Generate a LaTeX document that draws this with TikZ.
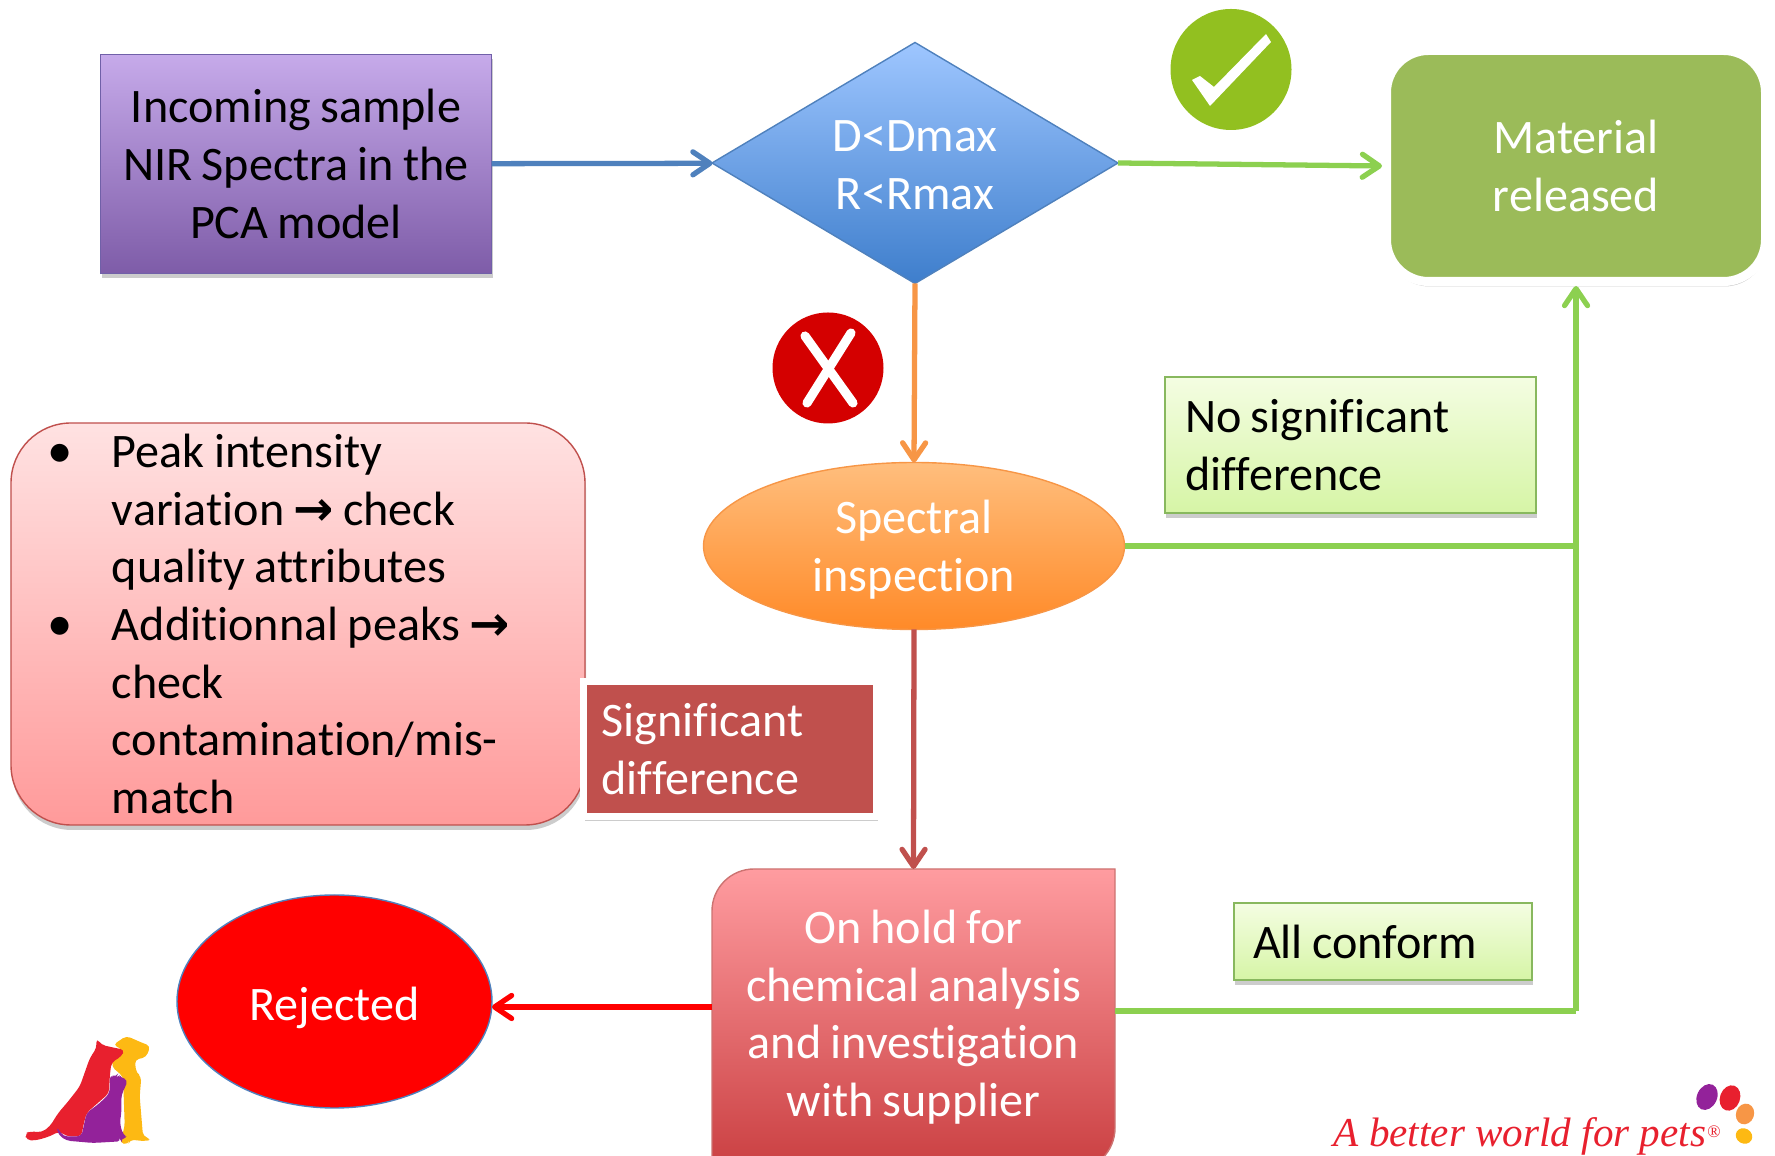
\documentclass[tikz,border=0pt]{standalone}
\usepackage{fontspec}
\setmainfont{Carlito}[Ligatures=NoCommon, WordSpace=0.85]
\newfontfamily\logofont{Liberation Serif}
\newfontfamily\arrowfont{DejaVu Sans}
\usetikzlibrary{shapes.geometric,shadows,arrows.meta}
\definecolor{sblue}{HTML}{4F81BD}
\definecolor{sgreen}{HTML}{8CD050}
\definecolor{sorange}{HTML}{F79646}
\definecolor{sbrick}{HTML}{C0504D}
\definecolor{logored}{HTML}{E8202E}
\definecolor{logopurple}{HTML}{93229A}
\definecolor{logoyellow}{HTML}{FDB913}
\tikzset{
	soft/.style      = {drop shadow={shadow xshift=0.01cm, shadow yshift=-0.05cm, opacity=0.4}},
	base/.style      = {inner sep=0pt, outer sep=0pt, align=center, font=\fontsize{13.7}{16.4}\selectfont},
	sample/.style    = {base, rectangle, soft, draw={rgb,255:red,112;green,96;blue,168}, top color={rgb,255:red,198;green,170;blue,234}, bottom color={rgb,255:red,126;green,92;blue,168}, minimum width=3.91cm, minimum height=2.19cm},
	decision/.style  = {base, diamond, draw=sblue, text=white, top color={rgb,255:red,158;green,198;blue,255}, bottom color={rgb,255:red,62;green,126;blue,204}, minimum width=4.06cm, minimum height=2.41cm, aspect=1.68},
	released/.style  = {base, rectangle, rounded corners=0.42cm, soft, draw=white, line width=0.09cm, outer sep=0.045cm, fill={rgb,255:red,155;green,187;blue,89}, text=white, minimum width=3.79cm, minimum height=2.31cm},
	inspect/.style   = {base, ellipse, draw=sorange, text=white, top color={rgb,255:red,255;green,190;blue,125}, bottom color={rgb,255:red,255;green,138;blue,40}, minimum width=4.21cm, minimum height=1.67cm},
	notes/.style     = {base, rectangle, rounded corners=0.6cm, soft, draw=sbrick, align=flush left, top color={rgb,255:red,255;green,226;blue,226}, bottom color={rgb,255:red,255;green,154;blue,154}, minimum width=5.74cm, minimum height=4.02cm, text width=4.84cm},
	signif/.style    = {base, rectangle, soft, draw=white, line width=0.07cm, fill=sbrick, text=white, align=flush left, minimum width=2.93cm, minimum height=1.35cm, text width=2.57cm},
	passed/.style    = {base, rectangle, soft, draw=sgreen!70!gray, align=flush left, top color={rgb,255:red,244;green,253;blue,226}, bottom color={rgb,255:red,214;green,245;blue,166}},
	rejected/.style  = {base, ellipse, draw=sblue, fill=red, text=white, minimum width=3.15cm, minimum height=2.13cm},
	badge/.style     = {circle, inner sep=0pt, outer sep=0pt, minimum size=#1},
	link/.style      = {line width=1.5pt, -{Straight Barb[round, length=1.7mm, width=2.3mm, line width=1.5pt]}}
}
\newcommand{\itemdot}{\makebox[0.56cm][l]{\hspace{-0.09cm}\Large\textbullet}}
\newcommand{\itemgap}{\hspace*{0.56cm}}
\newcommand{\sideways}{{\arrowfont\bfseries →}}
\newcommand{\lift}[1]{\rule{0pt}{#1}}

\begin{document}
\begin{tikzpicture}[x=1cm, y=-1cm, >=latex]
	\useasboundingbox (0,0) rectangle (17.75,11.56);

	% hold box has two round and two square corners
	\shade[top color={rgb,255:red,255;green,156;blue,160}, bottom color={rgb,255:red,200;green,60;blue,62}, draw=sbrick!80!white, thin]
		(7.12,11.8) [rounded corners=0.42cm] -- (7.12,8.69) [sharp corners] -- (11.15,8.69) [rounded corners=0.42cm] -- (11.15,11.7) [sharp corners] -- cycle;

	\draw
	node at (2.96,1.64) [sample] (sample) {Incoming sample\\NIR Spectra in the\\PCA model}
	node at (9.15,1.63) [decision] (limits) {\lift{10pt}D<Dmax\\R<Rmax}
	node at (15.76,1.66) [released] (material) {Material\\released}
	node at (9.14,5.46) [inspect] (spectral) {\lift{11.5pt}Spectral\\inspection}
	node at (2.98,6.24) [notes] (causes) {\itemdot Peak intensity\\
		\itemgap variation \sideways\ check\\
		\itemgap quality attributes\\
		\itemdot Additionnal peaks \sideways\\
		\itemgap check\\
		\itemgap contamination/mis-\\
		\itemgap match}
	node at (7.30,7.49) [signif] (signif) {Significant\\difference}
	node at (13.505,4.45) [passed, minimum width=3.71cm, minimum height=1.36cm, text width=3.31cm] (nodiff) {No significant\\difference}
	node at (13.83,9.415) [passed, minimum width=2.98cm, minimum height=0.77cm, text width=2.60cm] (conform) {All conform}
	node at (9.135,10.11) [base, minimum width=4.03cm, minimum height=2.84cm, text=white] (hold) {\lift{13pt}On hold for\\chemical analysis\\and investigation\\with supplier}
	node at (3.345,10.015) [rejected] (reject) {\lift{13pt}Rejected};

	\coordinate (join) at (15.76,5.46);
	\coordinate (corner) at (15.76,10.11);
	\coordinate (holdout) at (7.12,10.07);
	\coordinate (rejectin) at (4.92,10.07);

	\draw[link, sblue](sample)--(limits);
	\draw[link, sgreen](limits.east)--(material.west);
	\draw[link, sorange](limits.south)--(spectral.north);
	\draw[link, sbrick](spectral.south)--(hold.north);
	\draw[link, red](holdout)--(rejectin);
	\draw[line width=1.5pt, sgreen](spectral.east)--(join);
	\draw[line width=1.5pt, sgreen](hold.east)--(corner);
	\draw[link, sgreen](corner)--(join)--(material.south);

	% pass and fail marks
	\node at (12.31,0.695) [badge=1.21cm, fill={rgb,255:red,146;green,192;blue,32}] (okmark) {};
	\fill[white] (12.66,0.34)--(12.71,0.42)--(12.10,1.06)--(11.92,0.80)--(12.00,0.76)--(12.14,0.87)--cycle;
	\node at (8.28,3.68) [badge=1.11cm, fill={rgb,255:red,212;green,0;blue,0}] (nomark) {};
	\draw[white, line width=2.6pt, line cap=round] (8.05,3.36)--(8.53,4.03);
	\draw[white, line width=2.6pt, line cap=round] (8.51,3.33)--(8.07,4.03);

	% dog and cat logo
	\begin{scope}[shift={(0,9.8)}, x=0.003333cm, y=-0.003333cm, rounded corners=1.2pt]
		\fill[logoyellow] (340,195)--(380,168)--(430,190)--(452,198)--(440,232)--(405,240)--(410,280)--(425,290)--(420,350)--(430,470)--(455,478)--(440,485)--(390,480)--(385,495)--(360,490)--(375,440)--(370,290)--(335,260)--(340,240)--(370,210)--cycle;
		\fill[logored] (75,462)--(90,455)--(125,458)--(150,440)--(175,400)--(205,365)--(240,320)--(270,235)--(290,205)--(290,175)--(305,195)--(340,203)--(375,210)--(365,230)--(335,248)--(330,290)--(328,340)--(260,400)--(250,440)--(245,470)--(200,470)--(178,455)--(150,470)--(110,482)--(80,482)--cycle;
		\fill[logopurple] (330,285)--(350,292)--(355,282)--(365,295)--(385,300)--(375,325)--(365,345)--(365,400)--(360,430)--(370,465)--(385,475)--(360,478)--(365,485)--(280,490)--(200,483)--(175,465)--(170,440)--(190,470)--(245,470)--(260,400)--(300,370)--(330,340)--cycle;
	\end{scope}

	% slogan and paw
	\node[inner sep=0pt, anchor=base west, text=logored, font=\logofont\itshape\fontsize{11.7}{15}\selectfont] (slogan) at (13.33,11.47) {A better world for pets};
	\node[inner sep=0pt, text=logored, font=\logofont\fontsize{5}{6}\selectfont] (regmark) at (17.14,11.32) {®};
	\fill[logopurple, rotate around={-25:(17.07,10.97)}] (17.07,10.97) ellipse (0.10 and 0.135);
	\fill[logored, rotate around={-20:(17.30,10.98)}] (17.30,10.98) ellipse (0.10 and 0.13);
	\fill[sorange, rotate around={-20:(17.45,11.14)}] (17.45,11.14) ellipse (0.09 and 0.105);
	\fill[logoyellow, rotate around={-30:(17.44,11.36)}] (17.44,11.36) ellipse (0.085 and 0.075);
\end{tikzpicture}
\end{document}
